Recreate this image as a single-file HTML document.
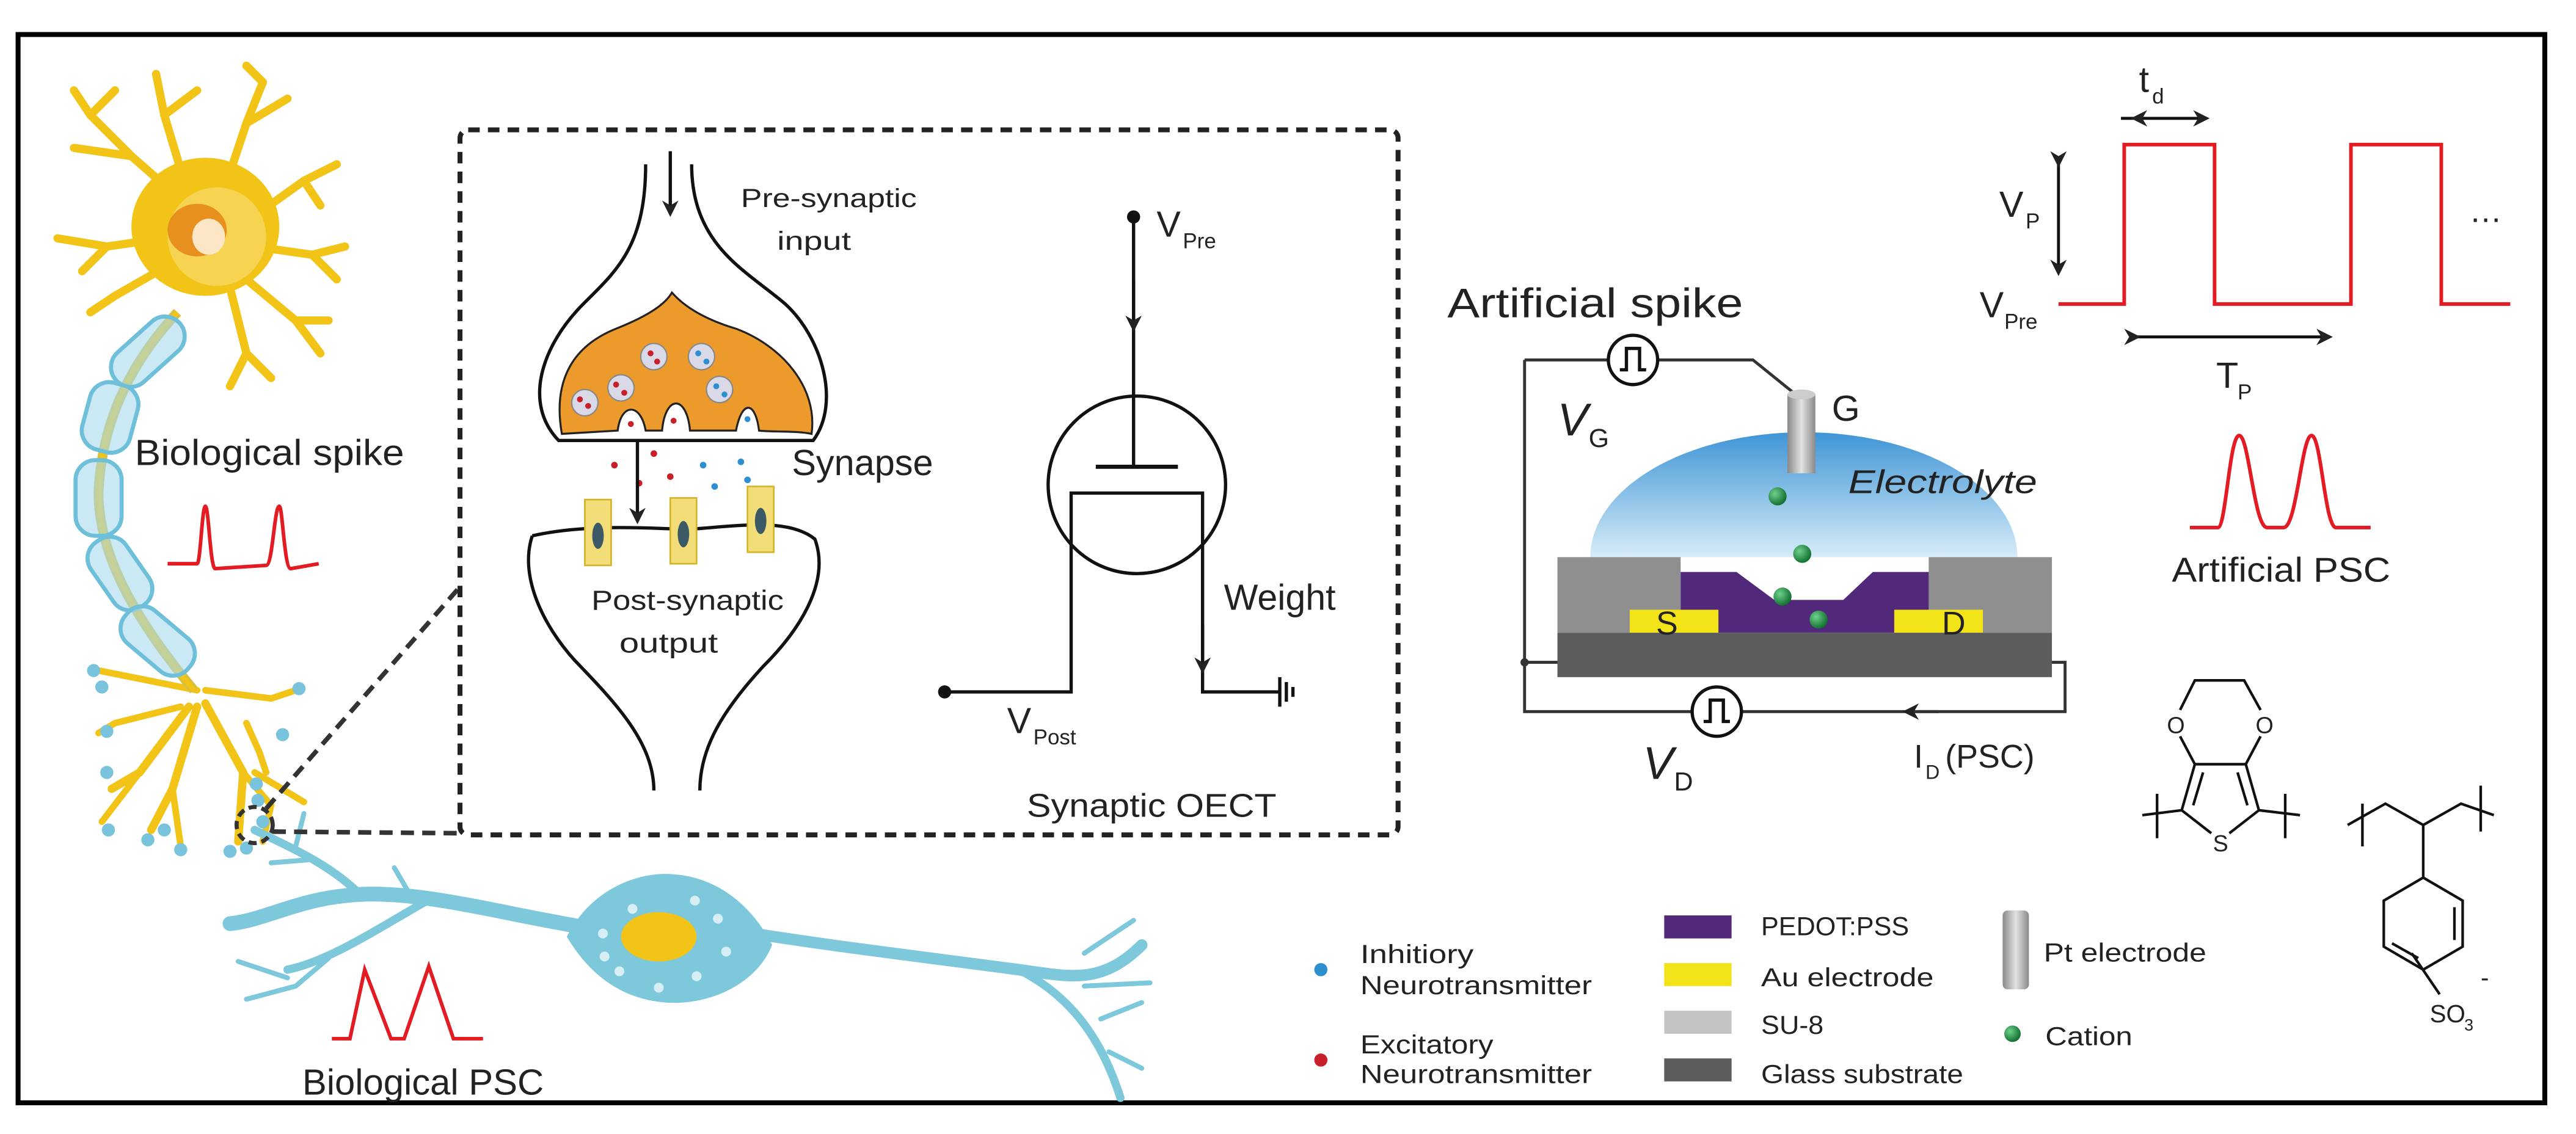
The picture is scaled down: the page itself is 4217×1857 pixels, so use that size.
<!DOCTYPE html>
<html><head><meta charset="utf-8"><style>
html,body{margin:0;padding:0;background:#fff;}
svg{display:block;}
text{font-family:"Liberation Sans",sans-serif;fill:#222;}
</style></head><body>
<svg width="4217" height="1857" viewBox="0 0 1568 690" preserveAspectRatio="none" xmlns="http://www.w3.org/2000/svg">
<defs>
<linearGradient id="el" x1="0" y1="0" x2="0" y2="1"><stop offset="0" stop-color="#3f95d6"/><stop offset="1" stop-color="#d7ecf8"/></linearGradient>
<linearGradient id="pt" x1="0" y1="0" x2="1" y2="0"><stop offset="0" stop-color="#888"/><stop offset="0.5" stop-color="#e2e2e2"/><stop offset="1" stop-color="#8a8a8a"/></linearGradient>
<radialGradient id="gr" cx="0.35" cy="0.35" r="0.7"><stop offset="0" stop-color="#6fd08c"/><stop offset="1" stop-color="#0d6b2c"/></radialGradient>
<marker id="ah" markerWidth="10" markerHeight="10" refX="8" refY="5" orient="auto" markerUnits="userSpaceOnUse"><path d="M0,0 L10,5 L0,10 L3,5 Z" fill="#222"/></marker>
</defs>
<rect x="0" y="0" width="1568" height="690" fill="#fff"/>
<rect x="11" y="21" width="1538" height="650" fill="none" stroke="#000" stroke-width="3"/>

<!-- Yellow neuron dendrites -->
<g stroke="#f2c418" stroke-linecap="round" fill="none">
<g stroke-width="5">
<path d="M120,130 L80,95 L55,70"/><path d="M80,95 L45,90"/><path d="M55,70 L45,55"/><path d="M55,70 L70,55"/>
<path d="M115,120 L100,70 L95,45"/><path d="M100,70 L120,55"/>
<path d="M135,120 L150,75 L160,50"/><path d="M150,75 L175,60"/><path d="M160,50 L150,40"/>
<path d="M150,135 L185,110 L205,100"/><path d="M185,110 L195,125"/>
<path d="M155,150 L190,155 L210,150"/><path d="M190,155 L205,170"/>
<path d="M100,145 L65,150 L35,145"/><path d="M65,150 L50,165"/>
<path d="M105,160 L70,180 L55,190"/><path d="M150,170 L180,195 L195,215"/><path d="M180,195 L200,195"/>
<path d="M140,175 L150,215 L140,235"/><path d="M150,215 L165,230"/>
</g>
<path d="M120,420 L60,408" stroke-width="4"/><path d="M110,430 L70,440 L60,446" stroke-width="4"/>
<path d="M115,430 L85,470 L68,480" stroke-width="5"/><path d="M85,470 L62,500" stroke-width="4"/>
<path d="M120,430 L105,480 L92,505" stroke-width="5"/><path d="M105,480 L110,515" stroke-width="4"/>
<path d="M125,428 L148,470 L145,512" stroke-width="5"/><path d="M148,470 L165,490 L160,512" stroke-width="4"/>
<path d="M125,420 L165,425 L180,420" stroke-width="4"/><path d="M150,440 L158,458 L162,470" stroke-width="4"/>
<path d="M155,470 L185,488" stroke-width="4"/>
</g>
<g fill="#79c4dc">
<circle cx="57" cy="408" r="4"/><circle cx="62" cy="418" r="4"/><circle cx="65" cy="445" r="4"/><circle cx="65" cy="470" r="4"/><circle cx="66" cy="505" r="4"/><circle cx="90" cy="511" r="4"/><circle cx="100" cy="505" r="4"/><circle cx="110" cy="517" r="4"/><circle cx="140" cy="518" r="4"/><circle cx="150" cy="516" r="4"/><circle cx="182" cy="419" r="4"/><circle cx="172" cy="447" r="4"/><circle cx="156" cy="477" r="4"/><circle cx="157" cy="487" r="4"/><circle cx="160" cy="500" r="4"/>
</g>
<ellipse cx="125" cy="138" rx="45" ry="42" fill="#f2c418"/>
<ellipse cx="132" cy="144" rx="30" ry="30" fill="#f6d350"/>
<ellipse cx="120" cy="140" rx="18" ry="16" fill="#e8901e"/>
<ellipse cx="127" cy="144" rx="10" ry="11" fill="#fbe6c6"/>
<!-- axon -->
<path d="M108,190 C85,215 62,250 60,300 C60,340 85,380 118,420" stroke="#d8c040" stroke-width="6" fill="none"/>
<path d="M108,190 C85,215 62,250 60,300 C60,340 85,380 118,420" stroke="#f2c418" stroke-width="3" fill="none"/>
<g fill="#a9dbec" fill-opacity="0.6" stroke="#6ebfda" stroke-width="2.5">
<rect x="-26" y="-12" width="52" height="24" rx="12" transform="translate(90,214) rotate(-42)"/>
<rect x="-15" y="-21" width="30" height="42" rx="12" transform="translate(67,254) rotate(15)"/>
<rect x="-14" y="-23" width="28" height="46" rx="12" transform="translate(60,303)"/>
<rect x="-24" y="-13" width="48" height="26" rx="12" transform="translate(73,349) rotate(55)"/>
<rect x="-25" y="-13" width="50" height="26" rx="12" transform="translate(96,390) rotate(40)"/>
</g>
<text x="82" y="283" font-size="22" textLength="164" lengthAdjust="spacingAndGlyphs">Biological spike</text>
<path d="M102,343 L120,343 C122,343 123,308 125,308 C127,308 128,346 131,346 L162,344 C166,344 167,308 170,308 C172,308 173,346 177,346 L194,343" stroke="#e31b23" stroke-width="2.2" fill="none"/>

<!-- Blue neuron -->
<g stroke="#7ec8dc" stroke-linecap="round" fill="none">
<path d="M360,565 C300,555 250,540 210,545 C180,548 160,560 140,562" stroke-width="9"/>
<path d="M220,545 C200,525 175,515 155,505" stroke-width="5"/>
<path d="M190,523 L165,525" stroke-width="3"/><path d="M180,515 L185,495" stroke-width="3"/>
<path d="M250,545 L240,528" stroke-width="3"/>
<path d="M260,548 C230,565 200,585 175,590" stroke-width="5"/>
<path d="M200,583 L180,600 L150,608" stroke-width="3"/><path d="M175,595 L145,585" stroke-width="3"/>
<path d="M440,565 C500,575 560,582 620,590 C650,594 670,600 695,575" stroke-width="7"/>
<path d="M620,590 C650,605 670,630 682,668" stroke-width="5"/>
<path d="M660,580 L690,560" stroke-width="3"/><path d="M670,620 L695,610" stroke-width="3"/><path d="M660,600 L700,598" stroke-width="3"/>
<path d="M675,640 L695,650" stroke-width="3"/>
</g>
<path d="M345,570 C360,540 390,530 410,532 C440,534 460,555 470,575 C460,600 430,612 405,610 C380,608 360,595 345,570 Z" fill="#7ec8dc"/>
<ellipse cx="401" cy="570" rx="23" ry="15" fill="#f2c418"/>
<g fill="#d8eef5"><circle cx="367" cy="568" r="3"/><circle cx="385" cy="553" r="3"/><circle cx="423" cy="548" r="3"/><circle cx="437" cy="559" r="3"/><circle cx="442" cy="579" r="3"/><circle cx="424" cy="594" r="3"/><circle cx="401" cy="601" r="3"/><circle cx="377" cy="591" r="3"/><circle cx="368" cy="582" r="3"/></g>
<path d="M202,632 L213,632 L222,590 L238,632 L246,632 L261,588 L276,632 L294,632" stroke="#e31b23" stroke-width="2.2" fill="none"/>
<text x="184" y="666" font-size="22" textLength="147" lengthAdjust="spacingAndGlyphs">Biological PSC</text>

<!-- Zoom lines -->
<circle cx="155" cy="502" r="11" fill="none" stroke="#333" stroke-width="2.5" stroke-dasharray="5 3"/>
<path d="M162,492 L280,357 M166,506 L280,507" stroke="#333" stroke-width="2.8" stroke-dasharray="8 5"/>
<rect x="280" y="79" width="571" height="429" rx="5" fill="none" stroke="#222" stroke-width="3" stroke-dasharray="7 5"/>

<!-- Synapse -->
<path d="M393,100 C393,150 375,165 355,185 C330,210 318,245 340,268 L495,268 C512,245 500,205 478,185 C455,165 421,150 421,100" fill="#fff" stroke="#111" stroke-width="2"/>
<path d="M342,264 C336,230 350,210 375,200 C395,192 405,185 409,178 C416,186 428,194 448,200 C475,210 498,235 494,264 C485,262 470,263 462,262 C460,245 452,242 448,262 L420,262 C418,240 405,240 403,262 L393,262 C390,245 378,245 376,262 Z" fill="#eb9a2b" stroke="#222" stroke-width="1.2"/>
<g fill="#d9d9e8" stroke="#888" stroke-width="0.8">
<circle cx="356" cy="245" r="8"/><circle cx="378" cy="236" r="8"/><circle cx="398" cy="217" r="8"/><circle cx="427" cy="217" r="8"/><circle cx="438" cy="237" r="8"/>
</g>
<g fill="#c8202a"><circle cx="353" cy="243" r="1.8"/><circle cx="358" cy="247" r="1.8"/><circle cx="375" cy="234" r="1.8"/><circle cx="380" cy="239" r="1.8"/><circle cx="396" cy="215" r="1.8"/><circle cx="400" cy="220" r="1.8"/><circle cx="384" cy="258" r="1.8"/><circle cx="410" cy="256" r="1.8"/><circle cx="374" cy="283" r="2"/><circle cx="398" cy="276" r="2"/><circle cx="408" cy="290" r="2"/><circle cx="363" cy="307" r="2"/><circle cx="389" cy="294" r="2"/></g>
<g fill="#2e8fd0"><circle cx="425" cy="215" r="1.8"/><circle cx="430" cy="220" r="1.8"/><circle cx="436" cy="235" r="1.8"/><circle cx="441" cy="240" r="1.8"/><circle cx="455" cy="255" r="1.8"/><circle cx="428" cy="283" r="2"/><circle cx="451" cy="281" r="2"/><circle cx="435" cy="296" r="2"/><circle cx="455" cy="292" r="2"/><circle cx="465" cy="308" r="2"/></g>
<path d="M324,326 C360,318 400,322 420,322 C450,320 480,315 496,328 C506,355 485,385 465,405 C440,432 426,455 426,481 M324,326 C316,350 330,380 350,402 C375,428 398,452 398,481" fill="none" stroke="#111" stroke-width="2"/>
<g fill="#f3dd78" stroke="#d6b42a" stroke-width="1"><rect x="356" y="304" width="16" height="40"/><rect x="408" y="303" width="16" height="40"/><rect x="455" y="296" width="16" height="40"/></g>
<g fill="#3c5a66"><ellipse cx="364" cy="326" rx="3.5" ry="8"/><ellipse cx="416" cy="325" rx="3.5" ry="8"/><ellipse cx="463" cy="317" rx="3.5" ry="8"/></g>
<path d="M408,92 L408,130" stroke="#111" stroke-width="2" marker-end="url(#ah)"/>
<path d="M388,269 L388,317" stroke="#111" stroke-width="2" marker-end="url(#ah)"/>
<text x="451" y="126" font-size="16" textLength="107" lengthAdjust="spacingAndGlyphs">Pre-synaptic</text>
<text x="473" y="152" font-size="16" textLength="45" lengthAdjust="spacingAndGlyphs">input</text>
<text x="482" y="289" font-size="22" textLength="86" lengthAdjust="spacingAndGlyphs">Synapse</text>
<text x="360" y="371" font-size="17" textLength="117" lengthAdjust="spacingAndGlyphs">Post-synaptic</text>
<text x="377" y="397" font-size="17" textLength="60" lengthAdjust="spacingAndGlyphs">output</text>

<!-- Transistor -->
<circle cx="692" cy="295" r="54" fill="none" stroke="#111" stroke-width="2"/>
<circle cx="690" cy="132" r="4" fill="#111"/>
<path d="M690,132 L690,284" stroke="#111" stroke-width="2"/>
<path d="M690,170 L690,200" stroke="#111" stroke-width="2" marker-end="url(#ah)"/>
<path d="M667,284 L717,284" stroke="#111" stroke-width="2.5"/>
<path d="M575,421 L652,421 L652,300 L732,300 L732,421 L779,421" fill="none" stroke="#111" stroke-width="2"/>
<path d="M732,380 L732,408" stroke="#111" stroke-width="2" marker-end="url(#ah)"/>
<circle cx="575" cy="421" r="4" fill="#111"/>
<path d="M779,412 L779,430 M783,415 L783,427 M787,418 L787,424" stroke="#111" stroke-width="2"/>
<text x="704" y="144" font-size="22">V</text><text x="720" y="151" font-size="13">Pre</text>
<text x="613" y="446" font-size="22">V</text><text x="629" y="453" font-size="13">Post</text>
<text x="745" y="371" font-size="22" textLength="68" lengthAdjust="spacingAndGlyphs">Weight</text>
<text x="625" y="497" font-size="20" textLength="152" lengthAdjust="spacingAndGlyphs">Synaptic OECT</text>

<!-- Artificial device -->
<text x="881" y="193" font-size="25" textLength="180" lengthAdjust="spacingAndGlyphs">Artificial spike</text>
<path d="M1098,339 m-130,0 a130,76 0 0,1 260,0 Z" fill="url(#el)"/>
<path d="M928,219 L979,219 M1009,219 L1067,219 L1093,240 M928,219 L928,433 L1030,433 M1060,433 L1257,433 L1257,403 L1207,403 M928,403 L992,403" fill="none" stroke="#333" stroke-width="1.8"/>
<circle cx="928" cy="403" r="2.5" fill="#333"/>
<rect x="948" y="339" width="75" height="46" fill="#8f8f8f"/>
<rect x="1174" y="339" width="75" height="46" fill="#8f8f8f"/>
<path d="M1023,348 L1057,348 L1080,365 L1122,365 L1140,348 L1174,348 L1174,385 L1023,385 Z" fill="#51287a"/>
<rect x="992" y="371" width="54" height="14" fill="#f3e41a"/>
<rect x="1153" y="371" width="54" height="14" fill="#f3e41a"/>
<rect x="948" y="385" width="301" height="27" fill="#5c5c5c"/>
<rect x="1088" y="240" width="17" height="48" fill="url(#pt)"/>
<ellipse cx="1096.5" cy="240" rx="8.5" ry="3" fill="#ccc"/>
<g fill="url(#gr)"><circle cx="1082" cy="302" r="5.5"/><circle cx="1097" cy="337" r="5.5"/><circle cx="1085" cy="363" r="5.5"/><circle cx="1107" cy="377" r="5.5"/></g>
<text x="1008" y="386" font-size="20">S</text>
<text x="1182" y="386" font-size="20">D</text>
<text x="1125" y="300" font-size="20" font-style="italic" textLength="115" lengthAdjust="spacingAndGlyphs">Electrolyte</text>
<text x="1115" y="256" font-size="22">G</text>
<circle cx="994" cy="219" r="15" fill="#fff" stroke="#111" stroke-width="2"/>
<path d="M986,225 L990,225 L990,212 L998,212 L998,225 L1002,225" fill="none" stroke="#111" stroke-width="2"/>
<circle cx="1045" cy="433" r="15" fill="#fff" stroke="#111" stroke-width="2"/>
<path d="M1037,439 L1041,439 L1041,426 L1049,426 L1049,439 L1053,439" fill="none" stroke="#111" stroke-width="2"/>
<path d="M1180,433 L1160,433" stroke="#333" stroke-width="1.8" marker-end="url(#ah)"/>
<text x="948" y="265" font-size="28" font-style="italic">V</text><text x="967" y="272" font-size="16">G</text>
<text x="1000" y="474" font-size="28" font-style="italic">V</text><text x="1019" y="481" font-size="16">D</text>
<text x="1165" y="467" font-size="20">I</text><text x="1172" y="474" font-size="12">D</text><text x="1184" y="467" font-size="20">(PSC)</text>

<!-- Pulse waveform -->
<path d="M1253,185 L1293,185 L1293,88 L1348,88 L1348,185 L1431,185 L1431,88 L1486,88 L1486,185 L1528,185" fill="none" stroke="#e31b23" stroke-width="2.2"/>
<path d="M1299,72 L1291,72 M1299,72 L1343,72" stroke="#111" stroke-width="1.8" marker-end="url(#ah)" marker-start="url(#ah)"/>
<path d="M1253,100 L1253,166" stroke="#111" stroke-width="1.8" marker-end="url(#ah)" marker-start="url(#ah)"/>
<path d="M1301,205 L1418,205" stroke="#111" stroke-width="1.8" marker-end="url(#ah)" marker-start="url(#ah)"/>
<text x="1302" y="56" font-size="22">t</text><text x="1310" y="63" font-size="13">d</text>
<text x="1217" y="132" font-size="22">V</text><text x="1233" y="139" font-size="13">P</text>
<text x="1205" y="193" font-size="22">V</text><text x="1220" y="200" font-size="13">Pre</text>
<text x="1349" y="236" font-size="22">T</text><text x="1362" y="243" font-size="13">P</text>
<text x="1503" y="135" font-size="20">…</text>
<path d="M1333,321 L1350,321 C1355,321 1357,265 1363,265 C1369,265 1372,321 1380,321 L1390,321 C1398,321 1401,265 1407,265 C1413,265 1415,321 1422,321 L1443,321" fill="none" stroke="#e31b23" stroke-width="2.2"/>
<text x="1322" y="354" font-size="21" textLength="133" lengthAdjust="spacingAndGlyphs">Artificial PSC</text>

<!-- PEDOT structure -->
<g stroke="#111" stroke-width="1.6" fill="none">
<path d="M1327,432 L1336,414 L1366,414 L1376,432"/>
<path d="M1327,448 L1336,465 M1376,448 L1367,465"/>
<path d="M1336,465 L1367,465 L1375,493 L1357,507 M1336,465 L1328,493 L1346,507"/>
<path d="M1341,470 L1335,490 M1362,470 L1368,490"/>
<path d="M1328,493 L1304,496 M1375,493 L1400,496"/>
<path d="M1313,483 L1313,510 M1391,483 L1391,510"/>
<path d="M1429,502 L1452,489 L1475,502 L1498,489 L1518,496"/>
<path d="M1438,489 L1438,515 M1510,478 L1510,506"/>
<path d="M1475,502 L1475,534"/>
<path d="M1475,534 L1499,548 L1499,576 L1475,590 L1451,576 L1451,548 Z"/>
<path d="M1494,552 L1494,572 M1456,574 L1472,583"/>
<path d="M1468,580 L1485,605"/>
</g>
<text x="1319" y="446" font-size="14">O</text><text x="1373" y="446" font-size="14">O</text>
<text x="1347" y="518" font-size="14">S</text>
<text x="1479" y="622" font-size="15">SO</text><text x="1500" y="627" font-size="10">3</text><text x="1510" y="600" font-size="15">-</text>

<!-- Legend -->
<circle cx="804" cy="590" r="4" fill="#2e8fd0"/>
<circle cx="804" cy="645" r="4" fill="#c8202a"/>
<text x="828" y="586" font-size="16" textLength="69" lengthAdjust="spacingAndGlyphs">Inhitiory</text>
<text x="828" y="605" font-size="16" textLength="141" lengthAdjust="spacingAndGlyphs">Neurotransmitter</text>
<text x="828" y="641" font-size="16" textLength="81" lengthAdjust="spacingAndGlyphs">Excitatory</text>
<text x="828" y="659" font-size="16" textLength="141" lengthAdjust="spacingAndGlyphs">Neurotransmitter</text>
<rect x="1013" y="557" width="41" height="14" fill="#51287a"/>
<rect x="1013" y="586" width="41" height="14" fill="#f3e41a"/>
<rect x="1013" y="615" width="41" height="14" fill="#c4c4c4"/>
<rect x="1013" y="644" width="41" height="14" fill="#5c5c5c"/>
<text x="1072" y="569" font-size="16" textLength="90" lengthAdjust="spacingAndGlyphs">PEDOT:PSS</text>
<text x="1072" y="600" font-size="16" textLength="105" lengthAdjust="spacingAndGlyphs">Au electrode</text>
<text x="1072" y="629" font-size="16" textLength="38" lengthAdjust="spacingAndGlyphs">SU-8</text>
<text x="1072" y="659" font-size="16" textLength="123" lengthAdjust="spacingAndGlyphs">Glass substrate</text>
<rect x="1219" y="554" width="16" height="48" rx="3" fill="url(#pt)"/>
<text x="1244" y="585" font-size="16" textLength="99" lengthAdjust="spacingAndGlyphs">Pt electrode</text>
<circle cx="1225" cy="629" r="5" fill="url(#gr)"/>
<text x="1245" y="636" font-size="16" textLength="53" lengthAdjust="spacingAndGlyphs">Cation</text>
</svg>
</body></html>
